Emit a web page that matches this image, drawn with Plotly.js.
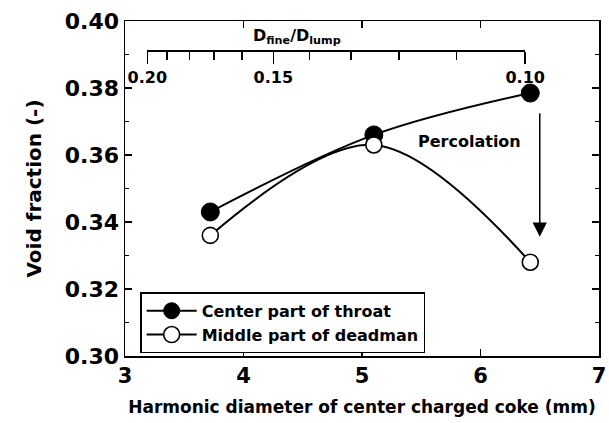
<!DOCTYPE html>
<html>
<head>
<meta charset="utf-8">
<script src="https://cdn.plot.ly/plotly-3.0.1.min.js"></script>
<style>html,body{margin:0;padding:0;background:#fff;}#chart{width:609px;height:423px;}</style>
</head>
<body>
<div id="chart"></div>
<script>
// ---- data ----
const harmonicDiameter = [3.72, 5.10, 6.42];          // mm
const throatVoid = [0.343, 0.366, 0.3785];            // Center part of throat
const deadmanVoid = [0.336, 0.363, 0.328];            // Middle part of deadman
const seriesNames = ['Center part of throat', 'Middle part of deadman'];
const xTicks = [3, 4, 5, 6, 7];
const yMajorTicks = [0.30, 0.32, 0.34, 0.36, 0.38, 0.40];
const yMinorTicks = [0.31, 0.33, 0.35, 0.37, 0.39];
const ratioMajor = [0.20, 0.15, 0.10];                 // D_fine / D_lump labels
const ratioMajorText = ['0.20', '0.15', '0.10'];
const ratioMinor = [0.19, 0.18, 0.17, 0.16, 0.14, 0.13, 0.12, 0.11];
const fineDiameter = 0.6377;                           // mm, so ratio = fineDiameter / harmonic diameter
const arrowX = 6.50, arrowFrom = 0.3729, arrowTo = 0.3356;
const labelPercolation = {x: 5.91, y: 0.364, text: 'Percolation'};

// ---- chart ----
const xRange = [3, 7];
const toX = r => fineDiameter / r;
const topLo = toX(Math.max(...ratioMajor)), topHi = toX(Math.min(...ratioMajor));
const domLo = (topLo - xRange[0]) / (xRange[1] - xRange[0]);
const domHi = (topHi - xRange[0]) / (xRange[1] - xRange[0]);

const F = 'DejaVu Sans, Arial, sans-serif';
const traces = [
  {x: ratioMajor.map(toX), y: ratioMajor.map(() => null), xaxis: 'x2', yaxis: 'y',
   mode: 'markers', showlegend: false, hoverinfo: 'skip'},
  {x: harmonicDiameter, y: throatVoid, name: seriesNames[0], mode: 'lines+markers',
   line: {color: '#000', width: 2, shape: 'spline'},
   marker: {symbol: 'circle', size: 18, color: '#000', line: {color: '#000', width: 1}}},
  {x: harmonicDiameter, y: deadmanVoid, name: seriesNames[1], mode: 'lines+markers',
   line: {color: '#000', width: 2, shape: 'spline'},
   marker: {symbol: 'circle', size: 16, color: '#fff', line: {color: '#000', width: 1.6}}}
];

const layout = {
  width: 609, height: 423,
  margin: {l: 125, r: 10, t: 21, b: 67},
  paper_bgcolor: '#fff', plot_bgcolor: 'rgba(0,0,0,0)',
  showlegend: true,
  xaxis: {
    range: xRange, tickmode: 'array', tickvals: xTicks,
    ticks: 'inside', ticklen: 7, tickwidth: 1.5, tickcolor: '#000',
    showline: true, linecolor: '#000', linewidth: 1.5, mirror: 'ticks',
    showgrid: false, zeroline: false,
    tickfont: {family: F, size: 21, color: '#000', weight: 'bold'},
    title: {text: 'Harmonic diameter of center charged coke (mm)', standoff: 14,
            font: {family: F, size: 17, color: '#000', weight: 'bold'}}
  },
  yaxis: {
    range: [0.30, 0.40], tickmode: 'array', tickvals: yMajorTicks, tickformat: '.2f',
    ticksuffix: '\u00a0',
    ticks: 'inside', ticklen: 7, tickwidth: 1.5, tickcolor: '#000',
    minor: {tickmode: 'array', tickvals: yMinorTicks, ticks: 'inside', ticklen: 4, tickwidth: 1.5, tickcolor: '#000'},
    showline: true, linecolor: '#000', linewidth: 1.5, mirror: 'ticks',
    showgrid: false, zeroline: false,
    tickfont: {family: F, size: 22, color: '#000', weight: 'bold'},
    title: {text: 'Void fraction (-)', standoff: 18,
            font: {family: F, size: 20, color: '#000', weight: 'bold'}}
  },
  xaxis2: {
    domain: [domLo, domHi], range: [topLo, topHi],
    anchor: 'free', position: 0.9126, side: 'bottom',
    tickmode: 'array', tickvals: ratioMajor.map(toX), ticktext: ratioMajorText,
    ticks: 'outside', ticklen: 12, tickwidth: 1.5, tickcolor: '#000',
    minor: {tickmode: 'array', tickvals: ratioMinor.map(toX), ticks: 'outside', ticklen: 8, tickwidth: 1.5, tickcolor: '#000'},
    showline: true, linecolor: '#000', linewidth: 1.5,
    showgrid: false, zeroline: false,
    tickfont: {family: F, size: 16, color: '#000', weight: 'bold'}
  },
  legend: {
    x: 0.032, y: 0.19, xanchor: 'left', yanchor: 'top',
    bgcolor: '#fff', bordercolor: '#000', borderwidth: 1.5,
    font: {family: F, size: 16, color: '#000', weight: 'bold'},
    tracegroupgap: 0, itemwidth: 50
  },
  annotations: [
    {x: labelPercolation.x, y: labelPercolation.y, xref: 'x', yref: 'y', text: labelPercolation.text,
     showarrow: false, font: {family: F, size: 16, color: '#000', weight: 'bold'}},
    {x: arrowX, y: arrowTo, ax: arrowX, ay: arrowFrom, xref: 'x', yref: 'y', axref: 'x', ayref: 'y',
     text: '', showarrow: true, arrowhead: 2, arrowsize: 1.9, arrowwidth: 1.5, arrowcolor: '#000'},
    {x: 0.362, y: 0.99, xref: 'paper', yref: 'paper', text: 'D<sub>fine</sub>/D<sub>lump</sub>',
     showarrow: false, font: {family: F, size: 16, color: '#000', weight: 'bold'}}
  ]
};

Plotly.newPlot('chart', traces, layout, {staticPlot: true, displayModeBar: false});
</script>
</body>
</html>
